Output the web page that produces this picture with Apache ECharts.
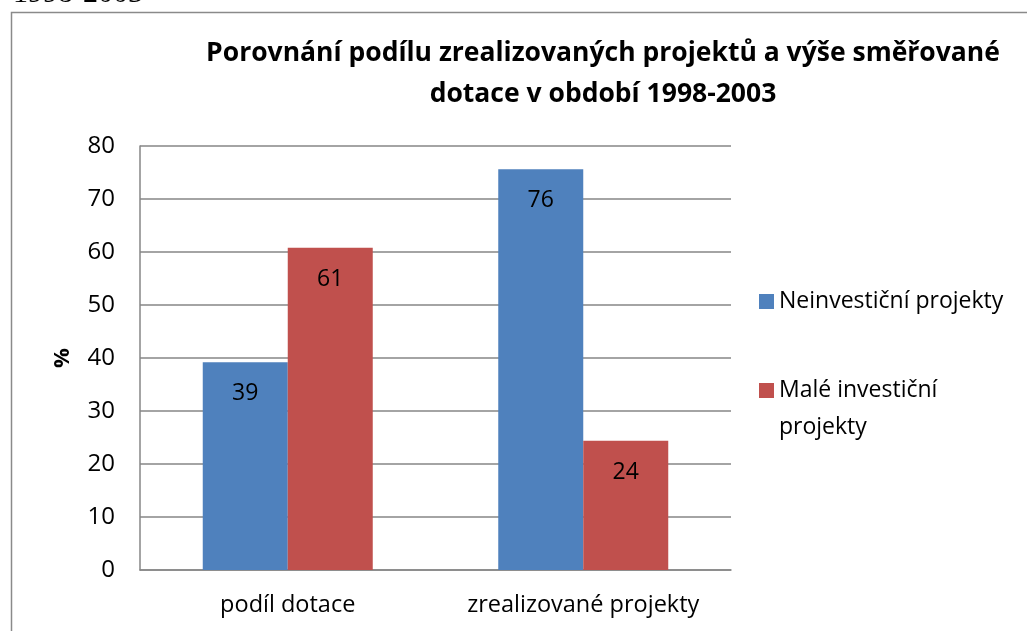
<!DOCTYPE html>
<html><head><meta charset="utf-8">
<script src="https://cdn.jsdelivr.net/npm/echarts@6/dist/echarts.min.js"></script>
<style>html,body{margin:0;padding:0;background:#fff}#c{width:1027px;height:631px}</style>
</head><body><div id="c"></div>
<script>
const categories = ['podíl dotace', 'zrealizované projekty'];
const seriesNames = ['Neinvestiční projekty', 'Malé investiční projekty'];
const neinvesticni = [39.2, 75.6];
const maleInvesticni = [60.8, 24.4];
const yTicks = [0, 10, 20, 30, 40, 50, 60, 70, 80];
const titleText = 'Porovnání podílu zrealizovaných projektů a výše směřované\ndotace v období 1998-2003';

const font = '"Open Sans", "Noto Sans", sans-serif';
const chart = echarts.init(document.getElementById('c'));
const labelCfg = {
  show: true, position: 'insideTop', distance: 20,
  color: '#000', fontSize: 23, fontFamily: font,
  formatter: p => Math.round(p.value)
};
chart.setOption({
  animation: false,
  title: {
    text: titleText, left: 598, top: 28, textAlign: 'center',
    textStyle: { fontFamily: font, fontWeight: 'bold', fontSize: 26.5, color: '#000', lineHeight: 41, align: 'center' }
  },
  graphic: [
    { type: 'rect', shape: { x: 11.5, y: 12.5, width: 1100, height: 700 }, style: { fill: 'none', stroke: '#8a8a8a', lineWidth: 1.5 }, z: -1 },
    { type: 'text', left: 13, top: -21, style: { text: '1998-2003', font: '30px "Liberation Serif"', fill: '#000' } }
  ],
  legend: {
    orient: 'vertical', left: 754, top: 278, itemWidth: 15, itemHeight: 15, itemGap: 15,
    icon: 'rect',
    textStyle: { fontFamily: font, fontSize: 23, color: '#000', lineHeight: 37 },
    formatter: n => n === 'Malé investiční projekty' ? '\nMalé investiční\nprojekty' : n,
    data: seriesNames
  },
  grid: { left: 140, right: 1027 - 731, top: 146, bottom: 631 - 570 },
  xAxis: {
    type: 'category', data: categories,
    axisLine: { lineStyle: { color: '#868686', width: 1.5 } },
    axisTick: { show: false },
    axisLabel: { interval: 0, hideOverlap: false, fontFamily: font, fontSize: 23.5, color: '#000', margin: 23 }
  },
  yAxis: {
    type: 'value', min: yTicks[0], max: yTicks[yTicks.length - 1], interval: 10,
    name: '%', nameLocation: 'middle', nameGap: 66, nameRotate: 90,
    nameTextStyle: { fontFamily: font, fontSize: 22, fontWeight: 'bold', color: '#000' },
    axisLine: { show: true, lineStyle: { color: '#868686', width: 1.5 } },
    axisTick: { show: false },
    axisLabel: { fontFamily: font, fontSize: 24, color: '#000', margin: 25 },
    splitLine: { lineStyle: { color: '#868686', width: 1.5 } }
  },
  series: [
    { name: seriesNames[0], type: 'bar', data: neinvesticni, barWidth: 85, barGap: '0%',
      itemStyle: { color: '#4f81bd' }, label: labelCfg },
    { name: seriesNames[1], type: 'bar', data: maleInvesticni, barWidth: 85, barGap: '0%',
      itemStyle: { color: '#c0504d' }, label: labelCfg }
  ]
});
</script></body></html>
